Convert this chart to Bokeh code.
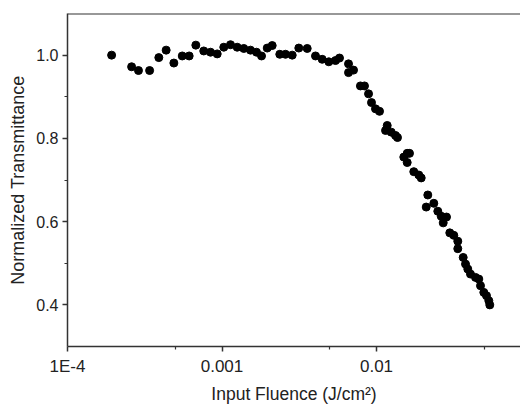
from bokeh.plotting import figure
from bokeh.models import FixedTicker, CustomJSTickFormatter, Span, Range1d
from bokeh.embed import file_html
from bokeh.resources import INLINE

fluence = [1.93e-4, 2.60e-4, 2.88e-4, 3.40e-4, 3.90e-4, 4.35e-4, 4.88e-4, 5.53e-4, 6.13e-4, 6.77e-4,
           7.62e-4, 8.43e-4, 9.31e-4, 1.027e-3, 1.135e-3, 1.254e-3, 1.384e-3, 1.529e-3, 1.672e-3, 1.802e-3,
           1.962e-3, 2.113e-3, 2.366e-3, 2.576e-3, 2.847e-3, 3.141e-3, 3.560e-3, 4.029e-3, 4.451e-3, 4.913e-3,
           5.428e-3, 5.76e-3, 6.59e-3, 6.59e-3, 7.10e-3, 7.87e-3, 8.36e-3, 8.88e-3, 9.28e-3, 9.85e-3,
           1.046e-2, 1.173e-2, 1.144e-2, 1.245e-2, 1.327e-2, 1.367e-2, 1.580e-2, 1.502e-2, 1.580e-2, 1.635e-2,
           1.743e-2, 1.878e-2, 1.947e-2, 2.148e-2, 2.349e-2, 2.098e-2, 2.493e-2, 2.623e-2, 2.838e-2, 2.702e-2,
           2.981e-2, 3.165e-2, 3.358e-2, 3.358e-2, 3.640e-2, 3.768e-2, 3.898e-2, 4.058e-2, 4.373e-2, 4.593e-2,
           4.711e-2, 4.949e-2, 5.152e-2, 5.332e-2, 5.41e-2]
transmittance = [1.000, 0.972, 0.963, 0.963, 0.994, 1.012, 0.981, 0.998, 0.998, 1.024,
                 1.010, 1.007, 1.003, 1.019, 1.025, 1.019, 1.016, 1.012, 1.007, 0.998,
                 1.017, 1.023, 1.002, 1.002, 1.000, 1.017, 1.016, 0.998, 0.990, 0.984,
                 0.987, 0.993, 0.979, 0.958, 0.964, 0.926, 0.926, 0.907, 0.886, 0.871,
                 0.865, 0.831, 0.819, 0.815, 0.807, 0.802, 0.764, 0.755, 0.742, 0.764,
                 0.720, 0.712, 0.705, 0.664, 0.644, 0.635, 0.625, 0.613, 0.611, 0.597,
                 0.573, 0.567, 0.553, 0.535, 0.514, 0.498, 0.486, 0.474, 0.466, 0.462,
                 0.446, 0.430, 0.422, 0.410, 0.400]

x_ticks = [1e-4, 1e-3, 1e-2]
x_tick_labels = ["1E-4", "0.001", "0.01"]
x_minor = [5e-4, 5e-3, 5e-2]
y_ticks = [0.4, 0.6, 0.8, 1.0]
y_minor = [0.5, 0.7, 0.9]

p = figure(width=520, height=406, x_axis_type="log",
           x_range=Range1d(1e-4, 0.0855), y_range=Range1d(0.3, 1.1),
           output_backend="svg", toolbar_location=None,
           min_border_left=67, min_border_top=13, min_border_right=0, min_border_bottom=60)

p.scatter(fluence, transmittance, size=8, color="black", line_color="black")

p.outline_line_color = None
p.grid.visible = False
p.background_fill_color = "white"

top = Span(location=1.1, dimension="width", line_color="#333333", line_width=2)
p.add_layout(top)

font = "Liberation Sans"
for ax in (p.xaxis[0], p.yaxis[0]):
    ax.axis_line_color = "#333333"
    ax.axis_line_width = 1.5
    ax.major_tick_line_color = "#333333"
    ax.minor_tick_line_color = "#333333"
    ax.major_tick_line_width = 1.5
    ax.minor_tick_line_width = 1.2
    ax.major_tick_out = 5
    ax.major_tick_in = 0
    ax.minor_tick_out = 3
    ax.minor_tick_in = 0
    ax.major_label_text_font = font
    ax.major_label_text_color = "#222222"
    ax.axis_label_text_font = font
    ax.axis_label_text_font_style = "normal"
    ax.axis_label_text_color = "#222222"

p.xaxis[0].major_label_text_font_size = "17px"
p.yaxis[0].major_label_text_font_size = "16px"
p.xaxis[0].axis_label_text_font_size = "17.5px"
p.yaxis[0].axis_label_text_font_size = "18px"

p.xaxis[0].ticker = FixedTicker(ticks=x_ticks, minor_ticks=x_minor)
p.xaxis[0].formatter = CustomJSTickFormatter(
    args=dict(vals=x_ticks, labels=x_tick_labels),
    code="""
    for (let i = 0; i < vals.length; i++) {
        if (Math.abs(Math.log10(tick) - Math.log10(vals[i])) < 1e-6) return labels[i];
    }
    return "";
    """)
p.xaxis[0].axis_label = "Input Fluence (J/cm\u00b2)"
p.xaxis[0].major_label_standoff = 5
p.xaxis[0].axis_label_standoff = 5

p.yaxis[0].ticker = FixedTicker(ticks=y_ticks, minor_ticks=y_minor)
p.yaxis[0].formatter = CustomJSTickFormatter(code="return tick.toFixed(1);")
p.yaxis[0].axis_label = "Normalized Transmittance"
p.yaxis[0].major_label_standoff = 4
p.yaxis[0].axis_label_standoff = 5

open("out.html", "w").write(file_html(p, INLINE))
